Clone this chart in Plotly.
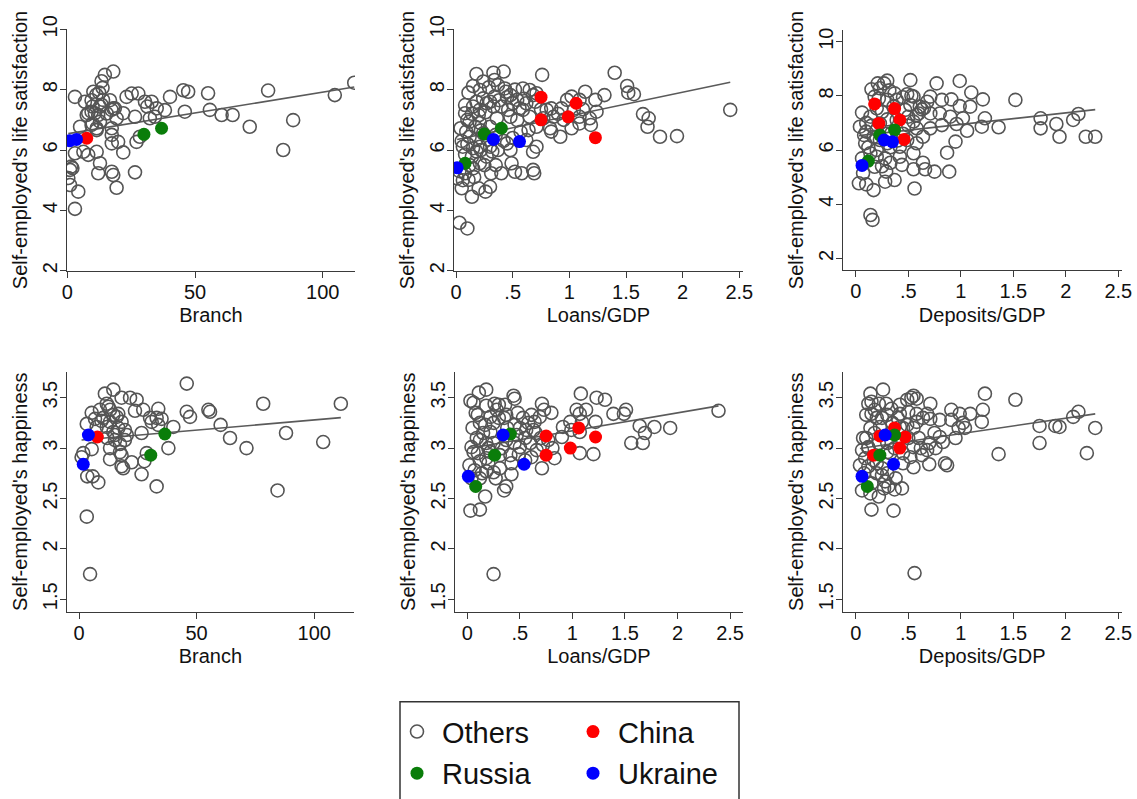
import numpy as np
import plotly.graph_objects as go

# ---------------- data ----------------
# Top row: self-employed's life satisfaction
branch_ls_others = [(18.0,8.60),(14.7,8.49),(13.4,8.28),(13.8,8.06),(3.0,7.76),(10.2,7.93),(11.4,7.83),(6.9,7.60),(9.5,7.65),(13.4,7.50),(16.7,7.65),(18.0,7.38),(9.5,7.27),(7.6,7.16),(12.1,7.16),(15.4,7.21),(19.3,7.05),(23.2,7.76),(25.2,7.87),(27.8,7.87),(30.4,7.60),(33.0,7.60),(35.0,7.38),(38.2,7.32),(40.2,7.76),(45.4,7.98),(47.3,7.93),(46.0,7.27),(26.5,7.10),(32.3,7.05),(5.0,6.77),(9.5,6.83),(12.8,6.94),(17.4,6.72),(17.4,6.50),(17.4,6.22),(19.9,6.27),(11.5,6.66),(27.1,6.27),(28.4,6.44),(3.0,5.89),(6.3,5.94),(8.2,5.84),(11.5,5.94),(21.9,5.92),(12.8,5.56),(12.1,5.23),(17.4,5.28),(18.0,5.17),(26.5,5.26),(1.1,5.34),(2.0,5.40),(0.4,5.07),(1.1,4.84),(4.3,4.62),(19.3,4.75),(3.0,4.05),(55.1,7.88),(55.8,7.33),(60.4,7.16),(64.7,7.16),(71.4,6.77),(78.6,7.97),(84.5,6.00),(88.4,6.99),(104.7,7.82),(112.3,8.23),(8.2,7.22),(10.8,7.22),(12.5,7.90),(14.0,7.66),(12.8,7.44),(9.9,7.44),(21.9,7.22),(17.3,7.33),(31.3,7.44),(34.3,7.10),(18.6,7.38),(1.5,5.45),(9.9,6.88),(11.5,6.72)]
branch_ls_china = [(7.6,6.39)]
branch_ls_russia = [(30.0,6.52),(36.9,6.72)]
branch_ls_ukraine = [(1.0,6.31),(3.6,6.35)]

loans_ls_others = [(0.18,8.52),(0.33,8.56),(0.42,8.60),(0.34,8.32),(0.76,8.49),(0.24,8.27),(0.15,8.12),(0.11,7.90),(0.21,7.99),(0.29,8.08),(0.37,8.15),(0.43,8.04),(0.44,7.93),(0.48,7.82),(0.34,7.77),(0.24,7.71),(0.27,7.55),(0.18,7.60),(0.08,7.49),(0.08,7.22),(0.15,7.44),(0.21,7.33),(0.33,7.44),(0.40,7.44),(0.46,7.33),(0.54,7.66),(0.56,7.38),(0.62,7.55),(0.68,7.82),(0.59,8.04),(0.65,7.99),(0.71,7.88),(0.80,7.33),(0.84,7.38),(0.86,7.10),(0.77,7.05),(0.84,6.61),(0.83,6.72),(0.92,6.44),(0.93,7.38),(0.98,7.66),(1.02,7.77),(1.04,7.33),(1.09,7.10),(1.09,6.88),(1.02,6.72),(1.14,7.93),(1.09,7.66),(1.18,7.05),(1.19,6.83),(1.23,7.66),(1.24,7.27),(1.31,7.82),(0.12,6.94),(0.04,6.72),(0.09,6.61),(0.17,6.77),(0.12,6.44),(0.18,6.33),(0.24,6.55),(0.21,6.11),(0.15,6.06),(0.06,6.11),(0.30,6.11),(0.37,6.00),(0.45,6.22),(0.48,6.00),(0.27,5.78),(0.14,5.78),(0.21,5.56),(0.15,5.39),(0.08,5.23),(0.11,5.01),(0.05,4.73),(0.14,4.45),(0.20,4.73),(0.26,4.62),(0.30,4.78),(0.31,5.23),(0.40,5.23),(0.49,5.56),(0.52,5.28),(0.58,5.23),(0.68,5.34),(0.69,5.23),(0.68,5.94),(0.71,6.11),(0.62,6.33),(0.64,6.66),(0.71,6.77),(0.03,3.59),(0.10,3.40),(0.01,5.06),(0.21,6.90),(0.30,6.77),(0.36,7.05),(0.48,7.10),(0.54,6.99),(0.65,7.10),(0.59,7.33),(1.40,8.56),(1.51,8.12),(1.52,7.90),(1.57,7.85),(1.65,7.19),(1.70,7.05),(1.69,6.77),(1.80,6.44),(1.95,6.46),(2.42,7.33),(0.10,7.00),(0.14,7.20),(0.20,7.15),(0.26,7.25),(0.30,7.60),(0.38,7.65),(0.50,7.55),(0.45,7.75),(0.52,8.00),(0.60,7.70),(0.70,7.60),(0.75,7.35),(0.90,7.20),(0.95,7.00),(1.12,7.35),(0.05,6.30),(0.10,6.20),(0.22,6.00),(0.28,6.35),(0.35,6.50),(0.18,5.95),(0.25,5.50),(0.12,5.50),(0.06,5.00),(0.16,5.10),(0.35,5.50),(0.42,6.30),(0.50,6.40),(0.57,6.60),(0.03,5.30),(0.22,6.65),(0.08,5.85),(0.32,5.95)]
loans_ls_china = [(0.75,7.75),(0.75,7.00),(0.99,7.10),(1.06,7.55),(1.23,6.41)]
loans_ls_russia = [(0.08,5.56),(0.25,6.53),(0.40,6.72)]
loans_ls_ukraine = [(0.01,5.41),(0.33,6.35),(0.56,6.28)]

deposits_ls_others = [(0.30,8.56),(0.27,8.46),(0.21,8.46),(0.52,8.58),(0.77,8.46),(0.99,8.55),(0.15,8.24),(0.23,8.28),(0.37,8.09),(0.49,8.06),(0.55,7.97),(0.71,7.97),(0.82,7.85),(0.91,7.87),(1.10,8.12),(1.21,7.87),(1.52,7.85),(0.06,7.38),(0.14,7.23),(0.20,7.54),(0.36,7.60),(0.52,7.66),(0.61,7.60),(0.68,7.78),(0.80,7.35),(0.71,7.35),(0.58,7.29),(0.50,7.23),(0.90,7.23),(0.99,7.62),(1.09,7.60),(1.02,7.17),(0.96,6.96),(1.06,6.71),(1.20,6.86),(1.23,7.17),(1.36,6.84),(1.76,7.17),(1.76,6.80),(1.91,6.96),(1.94,6.49),(2.07,7.11),(2.12,7.33),(2.19,6.49),(2.28,6.49),(0.04,6.86),(0.10,6.68),(0.17,6.49),(0.09,6.25),(0.14,5.88),(0.06,5.69),(0.20,6.00),(0.30,6.25),(0.42,6.12),(0.49,6.37),(0.58,6.25),(0.64,6.49),(0.42,5.75),(0.33,5.53),(0.44,5.45),(0.55,5.29),(0.64,5.53),(0.66,5.29),(0.75,5.20),(0.89,5.20),(0.87,5.90),(0.95,6.31),(0.29,5.20),(0.18,5.38),(0.07,5.14),(0.03,4.77),(0.10,4.73),(0.17,4.52),(0.28,4.83),(0.37,4.89),(0.56,4.58),(0.14,3.60),(0.16,3.42),(0.34,6.62),(0.23,6.98),(0.30,7.13),(0.39,7.11),(0.18,7.97),(0.39,7.85),(0.30,7.85),(0.47,7.48),(0.58,6.80),(0.71,6.80),(0.82,6.92),(0.20,6.74),(0.23,6.37),(0.28,5.69),(0.55,5.88),(0.10,7.00),(0.15,6.90),(0.25,7.40),(0.28,6.60),(0.12,6.10),(0.20,5.75),(0.25,5.40),(0.33,6.10),(0.40,6.35),(0.45,6.60),(0.50,6.90),(0.55,7.05),(0.60,7.35),(0.65,7.55),(0.08,6.55),(0.22,7.90),(0.32,8.20),(0.45,7.95),(0.53,8.00),(0.63,7.50)]
deposits_ls_china = [(0.18,7.70),(0.22,6.98),(0.37,7.53),(0.42,7.11),(0.46,6.39)]
deposits_ls_russia = [(0.23,6.55),(0.37,6.74),(0.12,5.59)]
deposits_ls_ukraine = [(0.06,5.43),(0.27,6.37),(0.35,6.30)]

# Bottom row: self-employed's happiness
branch_hap_others = [(14.6,3.58),(11.0,3.54),(18.1,3.50),(21.7,3.50),(24.5,3.48),(11.8,3.44),(12.5,3.41),(8.9,3.38),(5.4,3.35),(13.2,3.38),(14.6,3.33),(23.8,3.37),(27.3,3.38),(33.7,3.39),(6.8,3.29),(10.3,3.30),(16.0,3.31),(18.1,3.26),(3.3,3.24),(7.5,3.21),(11.8,3.21),(16.7,3.20),(14.6,3.16),(19.5,3.18),(30.9,3.26),(33.0,3.30),(35.1,3.29),(33.7,3.23),(30.2,3.30),(26.6,3.15),(19.5,3.08),(15.3,3.08),(17.4,3.04),(13.2,3.00),(17.4,2.96),(18.1,2.93),(13.2,2.89),(18.1,2.82),(18.8,2.80),(22.4,2.86),(27.8,2.87),(26.6,2.74),(28.8,2.95),(33.0,2.62),(1.8,2.95),(1.1,2.91),(5.4,2.99),(3.5,2.72),(5.8,2.72),(8.2,2.66),(3.3,2.32),(4.7,1.75),(38.0,3.00),(40.1,3.21),(45.8,3.64),(45.8,3.36),(47.2,3.31),(55.0,3.38),(55.7,3.36),(60.2,3.23),(64.2,3.10),(71.2,3.00),(78.3,3.44),(84.4,2.58),(88.0,3.15),(103.8,3.06),(111.3,3.44),(13.2,3.26),(20.3,3.13),(15.3,3.13),(16.7,3.34),(9.5,3.27),(12.0,3.10)]
branch_hap_china = [(7.8,3.11)]
branch_hap_russia = [(36.5,3.14),(30.5,2.93)]
branch_hap_ukraine = [(4.0,3.13),(1.8,2.84)]

loans_hap_others = [(0.18,3.58),(0.11,3.55),(0.03,3.47),(0.06,3.45),(0.18,3.42),(0.26,3.44),(0.30,3.43),(0.36,3.43),(0.44,3.52),(0.45,3.49),(0.71,3.44),(0.73,3.38),(0.80,3.35),(1.08,3.54),(1.04,3.38),(1.07,3.34),(1.13,3.38),(1.23,3.50),(1.31,3.48),(1.39,3.34),(1.51,3.38),(1.49,3.34),(0.10,3.33),(0.12,3.25),(0.22,3.31),(0.17,3.23),(0.30,3.30),(0.37,3.33),(0.45,3.23),(0.53,3.30),(0.61,3.33),(0.64,3.26),(0.69,3.31),(0.56,3.18),(0.63,3.18),(0.22,3.16),(0.09,3.10),(0.12,3.08),(0.25,3.05),(0.37,3.08),(0.47,3.13),(0.50,3.01),(0.49,2.94),(0.41,2.93),(0.31,2.93),(0.22,2.96),(0.18,2.90),(0.12,2.87),(0.07,2.78),(0.14,2.75),(0.18,2.77),(0.25,2.76),(0.31,2.80),(0.42,2.74),(0.37,2.62),(0.35,2.58),(0.17,2.52),(0.02,2.83),(0.04,3.01),(0.06,2.96),(0.03,2.38),(0.12,2.39),(0.25,1.75),(0.55,2.88),(0.61,2.91),(0.66,2.98),(0.72,3.03),(0.77,3.08),(0.71,2.80),(0.83,2.90),(0.81,3.00),(0.90,3.11),(0.91,3.21),(0.98,3.26),(0.99,3.18),(1.07,3.16),(1.09,3.26),(1.07,2.95),(1.20,2.94),(1.22,3.26),(1.56,3.05),(1.64,3.22),(1.69,3.15),(1.67,3.05),(1.78,3.21),(1.93,3.20),(2.39,3.37),(0.05,3.20),(0.08,3.35),(0.15,3.15),(0.20,3.00),(0.25,3.25),(0.28,3.38),(0.33,3.00),(0.38,3.20),(0.45,3.05),(0.50,3.20),(0.55,3.10),(0.60,3.05),(0.65,3.15),(0.70,3.10),(0.12,2.70),(0.20,2.85),(0.27,2.70),(0.10,2.95),(0.18,3.05),(0.42,2.85),(0.48,3.35),(0.58,3.25),(0.35,3.30),(0.04,2.70)]
loans_hap_china = [(0.75,3.12),(0.75,2.93),(0.98,3.00),(1.06,3.20),(1.22,3.11)]
loans_hap_russia = [(0.08,2.62),(0.26,2.93),(0.41,3.14)]
loans_hap_ukraine = [(0.01,2.72),(0.34,3.13),(0.54,2.84)]

deposits_hap_others = [(0.14,3.54),(0.26,3.58),(0.15,3.46),(0.12,3.44),(0.22,3.44),(0.29,3.44),(0.34,3.39),(0.42,3.43),(0.49,3.48),(0.55,3.52),(0.53,3.50),(0.58,3.49),(0.71,3.44),(0.18,3.38),(0.10,3.33),(0.15,3.34),(0.20,3.30),(0.30,3.33),(0.42,3.34),(0.50,3.36),(0.58,3.34),(0.68,3.34),(0.64,3.30),(0.58,3.26),(0.71,3.29),(0.80,3.28),(0.91,3.38),(0.99,3.34),(1.09,3.34),(1.21,3.38),(1.23,3.54),(1.52,3.48),(0.91,3.28),(1.02,3.25),(0.98,3.20),(1.04,3.20),(1.20,3.26),(0.95,3.10),(0.80,3.11),(0.76,3.00),(0.83,3.06),(0.68,2.98),(0.63,2.93),(0.55,3.01),(0.52,2.91),(0.45,2.95),(0.37,3.00),(0.30,2.96),(0.07,3.10),(0.06,2.98),(0.12,3.01),(0.04,2.83),(0.09,2.90),(0.12,2.82),(0.17,2.88),(0.20,2.75),(0.25,2.73),(0.28,2.67),(0.31,2.62),(0.37,2.59),(0.44,2.60),(0.06,2.58),(0.14,2.55),(0.22,2.52),(0.15,2.39),(0.36,2.38),(0.55,2.81),(0.70,2.84),(0.85,2.85),(0.87,2.83),(0.56,1.76),(1.36,2.94),(1.75,3.22),(1.75,3.05),(1.90,3.22),(1.94,3.21),(2.07,3.31),(2.12,3.36),(2.20,2.95),(2.28,3.20),(0.42,3.21),(0.49,3.23),(0.34,3.15),(0.23,3.21),(0.14,3.20),(0.10,3.10),(0.18,3.15),(0.25,3.30),(0.30,3.05),(0.35,3.25),(0.40,3.30),(0.45,3.20),(0.50,3.10),(0.55,3.20),(0.60,3.10),(0.62,3.00),(0.20,2.85),(0.25,2.80),(0.30,2.75),(0.08,2.75),(0.15,2.65),(0.27,2.60),(0.45,2.85),(0.33,2.95),(0.22,3.05),(0.12,3.00),(0.38,2.70),(0.70,3.05),(0.75,3.15)]
deposits_hap_china = [(0.23,3.12),(0.37,3.20),(0.47,3.11),(0.42,3.00),(0.17,2.93)]
deposits_hap_russia = [(0.37,3.13),(0.23,2.93),(0.11,2.62)]
deposits_hap_ukraine = [(0.28,3.13),(0.36,2.84),(0.06,2.72)]

# tick values and labels
branch_ticks = [0, 50, 100]
branch_ticklabels = ["0", "50", "100"]
ratio_ticks = [0, 0.5, 1, 1.5, 2, 2.5]
ratio_ticklabels = ["0", ".5", "1", "1.5", "2", "2.5"]
ls_ticks = [2, 4, 6, 8, 10]
ls_ticklabels = ["2", "4", "6", "8", "10"]
hap_ticks = [1.5, 2, 2.5, 3, 3.5]
hap_ticklabels = ["1.5", "2", "2.5", "3", "3.5"]

group_names = ["Others", "China", "Russia", "Ukraine"]

# ---------------- styling / layout ----------------
W, H = 1137, 799
FONT = "Liberation Sans, Arial, Helvetica, sans-serif"
AX = "#3a3a3a"
COLORS = {"China": "#ff0000", "Russia": "#0a7d0a", "Ukraine": "#0000ff"}

def dom_x(a, b):
    return [a / W, b / W]

def dom_y(top, bottom):
    return [1 - bottom / H, 1 - top / H]

panels = [
    dict(groups=[branch_ls_others, branch_ls_china, branch_ls_russia, branch_ls_ukraine],
         xd=dom_x(66.7, 355), yd=dom_y(29.3, 270.7), xr=[-0.23, 112.6], yr=[2, 10],
         xt=(branch_ticks, branch_ticklabels), yt=(ls_ticks, ls_ticklabels),
         xtitle="Branch", ytitle="Self-employed's life satisfaction"),
    dict(groups=[loans_ls_others, loans_ls_china, loans_ls_russia, loans_ls_ukraine],
         xd=dom_x(454, 742.7), yd=dom_y(29.3, 270.7), xr=[-0.018, 2.53], yr=[2, 10],
         xt=(ratio_ticks, ratio_ticklabels), yt=(ls_ticks, ls_ticklabels),
         xtitle="Loans/GDP", ytitle="Self-employed's life satisfaction"),
    dict(groups=[deposits_ls_others, deposits_ls_china, deposits_ls_russia, deposits_ls_ukraine],
         xd=dom_x(842.7, 1121.7), yd=dom_y(30, 270), xr=[-0.124, 2.532], yr=[1.57, 10.43],
         xt=(ratio_ticks, ratio_ticklabels), yt=(ls_ticks, ls_ticklabels),
         xtitle="Deposits/GDP", ytitle="Self-employed's life satisfaction"),
    dict(groups=[branch_hap_others, branch_hap_china, branch_hap_russia, branch_hap_ukraine],
         xd=dom_x(66.7, 354), yd=dom_y(371.7, 611.7), xr=[-5.23, 116.9], yr=[1.377, 3.758],
         xt=(branch_ticks, branch_ticklabels), yt=(hap_ticks, hap_ticklabels),
         xtitle="Branch", ytitle="Self-employed's happiness"),
    dict(groups=[loans_hap_others, loans_hap_china, loans_hap_russia, loans_hap_ukraine],
         xd=dom_x(455, 742.7), yd=dom_y(371.7, 611.7), xr=[-0.117, 2.62], yr=[1.377, 3.758],
         xt=(ratio_ticks, ratio_ticklabels), yt=(hap_ticks, hap_ticklabels),
         xtitle="Loans/GDP", ytitle="Self-employed's happiness"),
    dict(groups=[deposits_hap_others, deposits_hap_china, deposits_hap_russia, deposits_hap_ukraine],
         xd=dom_x(842.7, 1121.7), yd=dom_y(371.7, 611.7), xr=[-0.124, 2.532], yr=[1.377, 3.758],
         xt=(ratio_ticks, ratio_ticklabels), yt=(hap_ticks, hap_ticklabels),
         xtitle="Deposits/GDP", ytitle="Self-employed's happiness"),
]

fig = go.Figure()
layout_axes = {}

for i, p in enumerate(panels, start=1):
    xa = "x" if i == 1 else f"x{i}"
    ya = "y" if i == 1 else f"y{i}"
    xkey = "xaxis" if i == 1 else f"xaxis{i}"
    ykey = "yaxis" if i == 1 else f"yaxis{i}"

    # linear fit line over all observations in the panel
    all_pts = [pt for g in p["groups"] for pt in g]
    ax_ = np.array([q[0] for q in all_pts])
    ay_ = np.array([q[1] for q in all_pts])
    slope, intercept = np.polyfit(ax_, ay_, 1)
    fx = np.array([ax_.min(), ax_.max()])
    fig.add_trace(go.Scatter(x=fx, y=intercept + slope * fx, mode="lines",
                             line=dict(color="#5a5a5a", width=1.6),
                             showlegend=False, hoverinfo="skip", xaxis=xa, yaxis=ya))

    for name, pts in zip(group_names, p["groups"]):
        xs = [q[0] for q in pts]
        ys = [q[1] for q in pts]
        if name == "Others":
            marker = dict(symbol="circle-open", size=13, color="#555555", line=dict(width=1.6))
            leg = "legend"
        else:
            marker = dict(symbol="circle", size=13, color=COLORS[name], line=dict(width=0))
            leg = "legend" if name == "China" else "legend2"
        fig.add_trace(go.Scatter(x=xs, y=ys, mode="markers", name=name, marker=marker,
                                 legendgroup=name, showlegend=(i == 1), legend=leg,
                                 xaxis=xa, yaxis=ya))

    common = dict(showgrid=False, zeroline=False, showline=True, linecolor=AX, linewidth=1.3,
                  ticks="outside", ticklen=6, tickwidth=1.3, tickcolor=AX, automargin=False,
                  tickfont=dict(size=20, family=FONT, color="#111111"),
                  title_font=dict(size=20, family=FONT, color="#111111"), fixedrange=True)
    layout_axes[xkey] = dict(common, domain=p["xd"], range=p["xr"], anchor=ya,
                             tickvals=p["xt"][0], ticktext=p["xt"][1],
                             ticklabelstandoff=-3,
                             title=dict(text=p["xtitle"], standoff=6))
    layout_axes[ykey] = dict(common, domain=p["yd"], range=p["yr"], anchor=xa,
                             tickvals=p["yt"][0], ticktext=p["yt"][1], tickangle=-90,
                             ticklabelstandoff=-5,
                             title=dict(text=p["ytitle"], standoff=5))

fig.update_layout(**layout_axes)

leg_common = dict(orientation="h", xanchor="left", yanchor="middle",
                  font=dict(size=29, family=FONT, color="#111111"),
                  bgcolor="rgba(0,0,0,0)", borderwidth=0,
                  entrywidth=121, entrywidthmode="pixels", itemwidth=40)
fig.update_layout(
    width=W, height=H,
    margin=dict(l=0, r=0, t=0, b=0, autoexpand=False),
    paper_bgcolor="white", plot_bgcolor="white",
    font=dict(family=FONT, color="#111111"),
    legend=dict(leg_common, x=392 / W, y=1 - 731.7 / H),
    legend2=dict(leg_common, x=392 / W, y=1 - 773.3 / H),
    shapes=[dict(type="rect", xref="paper", yref="paper",
                 x0=400 / W, x1=739 / W, y0=-0.02, y1=1 - 701.7 / H,
                 line=dict(color="#333333", width=1.5), fillcolor="rgba(0,0,0,0)")],
)

fig.write_html("out.html", config={"displayModeBar": False},
               post_script="document.body.style.margin='0';document.body.style.padding='0';")
